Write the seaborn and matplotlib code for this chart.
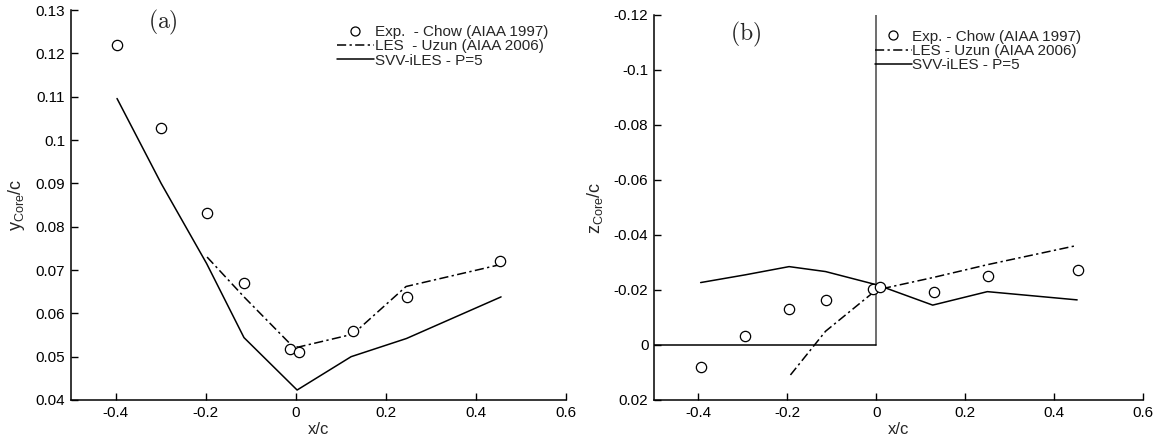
import matplotlib
matplotlib.use("Agg")
import matplotlib.pyplot as plt
import seaborn as sns
import pandas as pd
from matplotlib.ticker import FuncFormatter
from matplotlib.lines import Line2D

# ---------------- data ----------------
# panel (a): y_core/c
exp_a_x = [-0.397, -0.299, -0.198, -0.115, -0.012, 0.007, 0.127, 0.246, 0.454]
exp_a_y = [0.1219, 0.1029, 0.0831, 0.0669, 0.0518, 0.0511, 0.0559, 0.0638, 0.0721]
les_a_x = [-0.197, -0.114, -0.010, 0.005, 0.127, 0.245, 0.452]
les_a_y = [0.0730, 0.0637, 0.0527, 0.0522, 0.0552, 0.0662, 0.0712]
svv_a_x = [-0.397, -0.299, -0.198, -0.115, 0.003, 0.123, 0.246, 0.456]
svv_a_y = [0.1096, 0.0900, 0.0715, 0.0544, 0.0423, 0.0500, 0.0542, 0.0638]

# panel (b): z_core/c
exp_b_x = [-0.395, -0.295, -0.196, -0.112, -0.008, 0.009, 0.131, 0.252, 0.455]
exp_b_y = [0.0079, -0.0033, -0.0131, -0.0164, -0.0204, -0.0212, -0.0192, -0.0252, -0.0273]
les_b_x = [-0.193, -0.114, 0.000, 0.127, 0.250, 0.452]
les_b_y = [0.0109, -0.0050, -0.0200, -0.0245, -0.0292, -0.0362]
svv_b_x = [-0.395, -0.295, -0.196, -0.114, 0.003, 0.127, 0.250, 0.452]
svv_b_y = [-0.0227, -0.0255, -0.0285, -0.0267, -0.0218, -0.0145, -0.0194, -0.0164]

labels = ["Exp.  - Chow (AIAA 1997)", "LES  - Uzun (AIAA 2006)", "SVV-iLES - P=5"]
labels_b = ["Exp. - Chow (AIAA 1997)", "LES - Uzun (AIAA 2006)", "SVV-iLES - P=5"]
x_ticks = [-0.4, -0.2, 0, 0.2, 0.4, 0.6]
ya_ticks = [0.04, 0.05, 0.06, 0.07, 0.08, 0.09, 0.1, 0.11, 0.12, 0.13]
yb_ticks = [-0.12, -0.1, -0.08, -0.06, -0.04, -0.02, 0, 0.02]

# ---------------- style ----------------
sns.set_theme(style="white")
plt.rcParams["font.family"] = ["Liberation Sans", "DejaVu Sans"]
plt.rcParams["mathtext.fontset"] = "custom"
plt.rcParams["mathtext.rm"] = "Liberation Sans"
plt.rcParams["mathtext.it"] = "Liberation Sans"
plt.rcParams["axes.edgecolor"] = "black"
plt.rcParams["axes.linewidth"] = 1.1

fig = plt.figure(figsize=(11.62, 4.41), dpi=100)
axa = fig.add_axes([0.0608, 0.093, 0.4262, 0.884])
axb = fig.add_axes([0.5628, 0.093, 0.4208, 0.873])

DASHDOT = (6, 2.2, 1.5, 2.2)
LW = 1.1
FS = 11


def fmt(v, pos):
    return "%g" % round(v, 6)


def draw(ax, ex, ey, lx, ly, sx, sy):
    sns.lineplot(x=sx, y=sy, ax=ax, color="black", lw=LW, sort=False, estimator=None)
    sns.lineplot(x=lx, y=ly, ax=ax, color="black", lw=LW, sort=False, estimator=None)
    ax.lines[-1].set_dashes(DASHDOT)
    sns.scatterplot(x=ex, y=ey, ax=ax, marker="o", s=55, facecolor="white",
                    edgecolor="black", linewidth=0.9, zorder=5)


draw(axa, exp_a_x, exp_a_y, les_a_x, les_a_y, svv_a_x, svv_a_y)
draw(axb, exp_b_x, exp_b_y, les_b_x, les_b_y, svv_b_x, svv_b_y)

# reference lines in (b)
axb.plot([0, 0], [0, -0.12], color="#555555", lw=1.2, zorder=1)
axb.plot([-0.5, 0], [0, 0], color="black", lw=1.1, zorder=1)

for ax in (axa, axb):
    ax.set_xlim(-0.5, 0.6)
    ax.set_xticks(x_ticks)
    ax.xaxis.set_major_formatter(FuncFormatter(fmt))
    ax.yaxis.set_major_formatter(FuncFormatter(fmt))
    ax.tick_params(direction="in", length=5, width=1, labelsize=FS, colors="black",
                   pad=4, left=True, bottom=True)
    sns.despine(ax=ax)
    ax.set_xlabel("x/c", fontsize=12, labelpad=2)

axa.set_ylim(0.04, 0.13)
axa.set_yticks(ya_ticks)
axb.set_ylim(0.02, -0.12)
axb.set_yticks(yb_ticks)

axa.set_ylabel(r"$\mathregular{y_{Core}/c}$", fontsize=13, labelpad=6)
axb.set_ylabel(r"$\mathregular{z_{Core}/c}$", fontsize=13, labelpad=6)

# panel tags
axa.text(-0.328, 0.1272, r"$\mathrm{(a)}$", fontsize=17, ha="left", va="center",
         math_fontfamily="cm")
axb.text(-0.33, -0.113, r"$\mathrm{(b)}$", fontsize=17, ha="left", va="center",
         math_fontfamily="cm")


def legend(ax, labs, x, y):
    h = [Line2D([], [], color="black", marker="o", markerfacecolor="white", ls="none",
                markersize=6.5, markeredgewidth=0.9),
         Line2D([], [], color="black", lw=LW, dashes=DASHDOT),
         Line2D([], [], color="black", lw=LW)]
    ax.legend(h, labs, loc="upper left", bbox_to_anchor=(x, y), frameon=False,
              fontsize=FS, handlelength=2.4, handletextpad=0.05, labelspacing=0.02,
              borderpad=0, borderaxespad=0)


legend(axa, labels, 0.538, 0.962)
legend(axb, labels_b, 0.452, 0.962)

fig.savefig("out.png", dpi=100)
